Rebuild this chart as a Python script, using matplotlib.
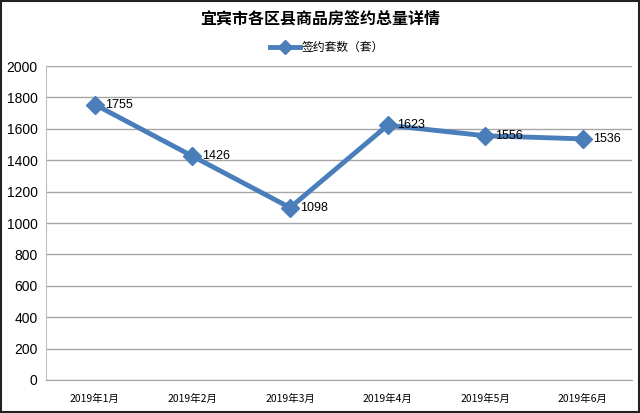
import matplotlib.pyplot as plt
from matplotlib.patches import Rectangle

plt.rcParams['font.family'] = ['Noto Sans CJK SC', 'DejaVu Sans']

months = ["2019年1月", "2019年2月", "2019年3月", "2019年4月", "2019年5月", "2019年6月"]
sales = [1755, 1426, 1098, 1623, 1556, 1536]
yticks = [0, 200, 400, 600, 800, 1000, 1200, 1400, 1600, 1800, 2000]

fig = plt.figure(figsize=(6.4, 4.13), dpi=100)
ax = fig.add_axes([0.072, 0.080, 0.915, 0.760])

x = list(range(len(months)))
color = "#4a7ebb"
ax.plot(x, sales, color=color, lw=3.5, marker="D", markersize=9, label="签约套数（套）")
for xi, v in zip(x, sales):
    ax.annotate(str(v), (xi, v), xytext=(7, 0), textcoords="offset points",
                va="center", ha="left", fontsize=9, family=["Liberation Sans", "DejaVu Sans"])

ax.set_xlim(-0.5, len(months) - 0.5)
ax.set_ylim(0, 2000)
ax.set_yticks(yticks)
ax.set_yticklabels([str(t) for t in yticks], family=["Liberation Sans", "DejaVu Sans"], fontsize=10)
ax.set_xticks(x)
ax.set_xticklabels(months, fontsize=7.5)
ax.tick_params(axis="both", length=0)
ax.tick_params(axis="x", pad=10)
ax.tick_params(axis="y", pad=6)
ax.grid(axis="y", color="#a6a6a6", lw=1)
ax.set_axisbelow(True)
for side in ["top", "right"]:
    ax.spines[side].set_visible(False)
ax.spines["left"].set_color("#bfbfbf")
ax.spines["bottom"].set_color("#a6a6a6")

fig.text(0.5, 0.955, "宜宾市各区县商品房签约总量详情", ha="center", va="center",
         fontsize=11.5, fontweight="bold")
leg = ax.legend(loc="center", bbox_to_anchor=(0.48, 1.06), frameon=False,
                fontsize=8.5, handlelength=2.5, handletextpad=0.2, borderaxespad=0,
                markerscale=0.8)

fig.patches.append(Rectangle((0.002, 0.003), 0.996, 0.994, transform=fig.transFigure,
                             fill=False, edgecolor="#222222", lw=1.5))

fig.savefig("out.png", dpi=100)
